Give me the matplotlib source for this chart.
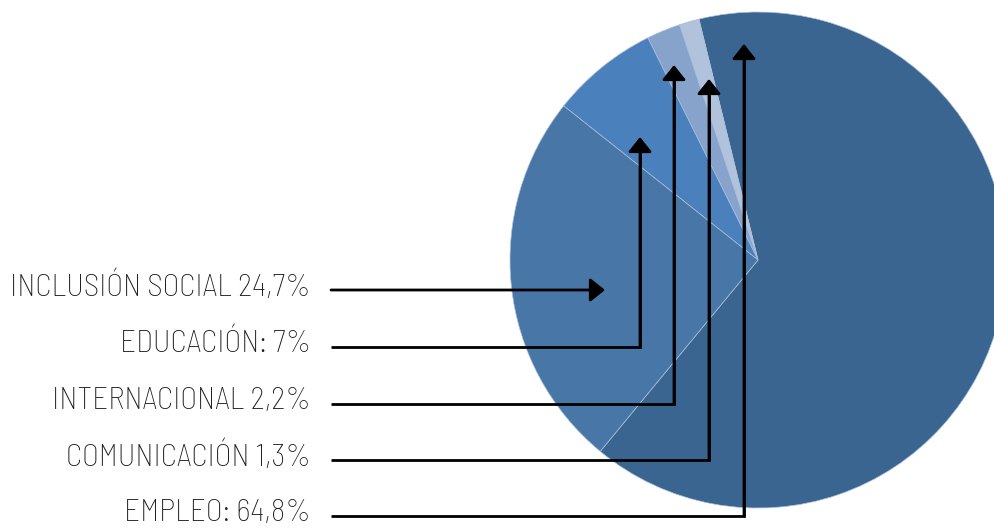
import matplotlib.pyplot as plt

# slices, counterclockwise starting from the Empleo / Inclusion boundary
slices = ['EMPLEO', 'COMUNICACIÓN', 'INTERNACIONAL', 'EDUCACIÓN', 'INCLUSIÓN SOCIAL']
values = [64.8, 1.3, 2.2, 7.0, 24.7]
colors = ['#3a6590', '#b0c2dc', '#87a3cb', '#4a80bc', '#4876a7']

# labels on the left, top to bottom
labels = ['INCLUSIÓN SOCIAL 24,7%', 'EDUCACIÓN: 7%', 'INTERNACIONAL 2,2%',
          'COMUNICACIÓN 1,3%', 'EMPLEO: 64,8%']

W, H = 994, 528
fig = plt.figure(figsize=(W / 100, H / 100), dpi=100)
ax = fig.add_axes([0, 0, 1, 1])

cx, cy, r = 758, H - 260, 248
ax.pie(values, colors=colors, startangle=-129.5, counterclock=True,
       center=(cx, cy), radius=r,
       wedgeprops=dict(edgecolor='#a9bfdc', linewidth=0.5))

# leader lines (image pixel coords): label row y, corner x, arrow tip y
line_y = [290, 347, 404, 460, 516]
corner_x = [605, 640, 674, 709, 744]
tip_y = [None, 137, 65, 79, 44]

font = ['Barlow Semi Condensed', 'Roboto Condensed', 'DejaVu Sans']
arrow = dict(arrowstyle='-|>,head_length=0.45,head_width=0.36',
             mutation_scale=20, lw=2, color='black', shrinkA=0, shrinkB=0)

for i, lab in enumerate(labels):
    y = H - line_y[i]
    ax.text(311, y + 3, lab, ha='right', va='center', fontsize=22.4,
            family=font, fontweight='light', color='#1a1a1a')
    x0 = 331
    if tip_y[i] is None:
        ax.annotate('', xy=(corner_x[i], y), xytext=(x0, y), arrowprops=arrow)
    else:
        ty = H - tip_y[i]
        ax.plot([x0, corner_x[i], corner_x[i]], [y, y, ty - 10], color='black',
                lw=2, solid_joinstyle='miter', solid_capstyle='butt')
        ax.annotate('', xy=(corner_x[i], ty), xytext=(corner_x[i], y), arrowprops=arrow)

ax.set_xlim(0, W)
ax.set_ylim(0, H)
ax.set_aspect('equal')
ax.axis('off')
fig.savefig('out.png', dpi=100)
